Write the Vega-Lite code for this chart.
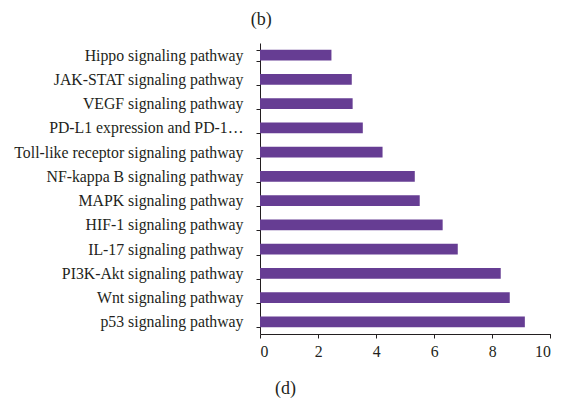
{
  "$schema": "https://vega.github.io/schema/vega-lite/v6.json",
  "width": 290.4,
  "height": 291,
  "autosize": {"type": "none"},
  "padding": {"left": 260, "top": 43, "right": 22.6, "bottom": 73},
  "background": "white",
  "title": {
    "text": "(b)",
    "font": "Liberation Serif",
    "fontSize": 18,
    "fontWeight": "normal",
    "color": "#231f20",
    "anchor": "middle",
    "dx": -144,
    "offset": 6
  },
  "data": {
    "values": [
      {"pathway": "Hippo signaling pathway", "value": 2.46},
      {"pathway": "JAK-STAT signaling pathway", "value": 3.16},
      {"pathway": "VEGF signaling pathway", "value": 3.19},
      {"pathway": "PD-L1 expression and PD-1…", "value": 3.54},
      {"pathway": "Toll-like receptor signaling pathway", "value": 4.22},
      {"pathway": "NF-kappa B signaling pathway", "value": 5.33},
      {"pathway": "MAPK signaling pathway", "value": 5.5},
      {"pathway": "HIF-1 signaling pathway", "value": 6.29},
      {"pathway": "IL-17 signaling pathway", "value": 6.81},
      {"pathway": "PI3K-Akt signaling pathway", "value": 8.29},
      {"pathway": "Wnt signaling pathway", "value": 8.6},
      {"pathway": "p53 signaling pathway", "value": 9.12}
    ]
  },
  "mark": {"type": "bar", "color": "#663d93"},
  "encoding": {
    "y": {
      "field": "pathway",
      "type": "nominal",
      "sort": {"field": "value", "order": "ascending"},
      "scale": {"paddingInner": 0.55, "paddingOuter": 0.275},
      "axis": {
        "title": null,
        "tickBand": "extent",
        "tickSize": 4,
        "tickColor": "#231f20",
        "domainColor": "#231f20",
        "labelPadding": 13,
        "labelFont": "Liberation Serif",
        "labelFontSize": 15.8,
        "labelColor": "#231f20",
        "labelLimit": 300
      }
    },
    "x": {
      "field": "value",
      "type": "quantitative",
      "scale": {"domain": [0, 10], "nice": false},
      "axis": {
        "values": [0, 2, 4, 6, 8, 10],
        "grid": false,
        "title": "(d)",
        "titleFont": "Liberation Serif",
        "titleFontSize": 18,
        "titleFontWeight": "normal",
        "titleColor": "#231f20",
        "titleX": 25,
        "titleY": 54,
        "titleBaseline": "middle",
        "tickSize": 4,
        "tickColor": "#231f20",
        "domainColor": "#231f20",
        "labelPadding": 6,
        "labelFont": "Liberation Serif",
        "labelFontSize": 15.8,
        "labelColor": "#231f20"
      }
    }
  },
  "config": {"view": {"stroke": null}}
}
